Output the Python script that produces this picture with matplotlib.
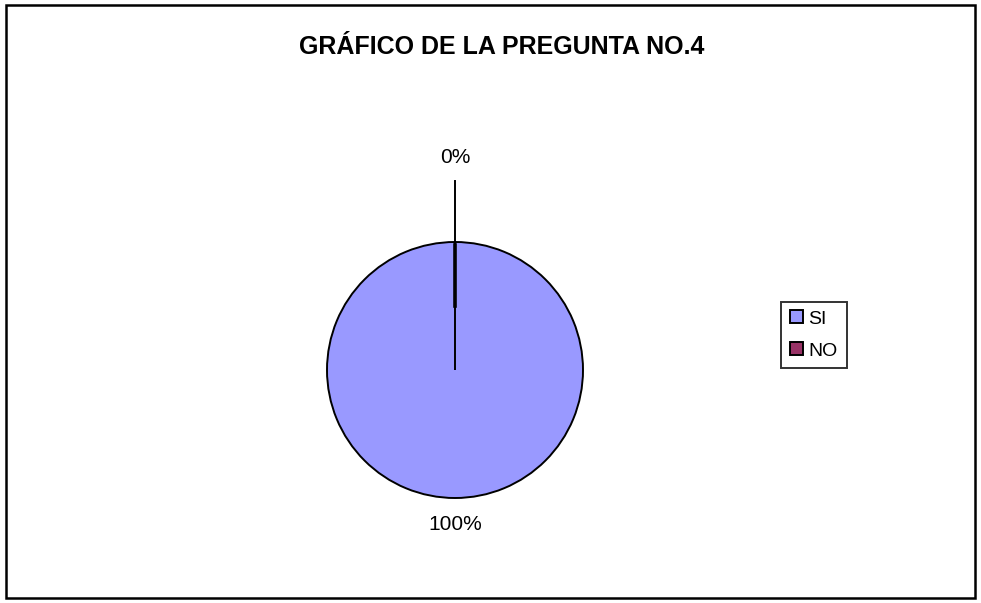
import matplotlib
matplotlib.use('Agg')
import matplotlib.pyplot as plt
from matplotlib.patches import Rectangle
import numpy as np

plt.rcParams['font.family'] = ['Liberation Sans', 'DejaVu Sans']

# data
labels = ['SI', 'NO']
values = [100, 0]
colors = ['#9999FF', '#993366']
title = 'GRÁFICO DE LA PREGUNTA NO.4'

W, H = 981, 603
fig = plt.figure(figsize=(W / 100, H / 100), dpi=100)

# outer border
fig.patches.append(Rectangle((6 / W, 5 / H), 969 / W, 593 / H, transform=fig.transFigure,
                             fill=False, edgecolor='black', linewidth=1.8))

fig.text(502 / W, 1 - 47 / H, title, ha='center', va='center',
         fontsize=18, fontweight='bold')

# pie axes, centre (455, 370), radius 128 px
cx, cy, r = 455, 370, 128
ax = fig.add_axes([(cx - 2 * r) / W, 1 - (cy + 2 * r) / H, 4 * r / W, 4 * r / H])

wedges, _ = ax.pie(values, colors=colors, startangle=90, counterclock=False,
                   radius=1, wedgeprops=dict(edgecolor='black', linewidth=1.4))
ax.set_xlim(-2, 2)
ax.set_ylim(-2, 2)
ax.axis('off')

total = sum(values)
for w, v in zip(wedges, values):
    ang = np.deg2rad((w.theta1 + w.theta2) / 2)
    pct = f'{v / total * 100:.0f}%'
    if v == 0:
        # leader line for the empty slice
        ax.plot([np.cos(ang) * 1.0, np.cos(ang) * 1.48], [np.sin(ang) * 1.0, np.sin(ang) * 1.48],
                color='black', linewidth=1.4)
        ax.plot([0, np.cos(ang) * 0.98], [np.sin(ang) * 0.5, np.sin(ang) * 0.98],
                color='black', linewidth=2.6)
        ax.text(np.cos(ang) * 1.66, np.sin(ang) * 1.66, pct, ha='center', va='center', fontsize=15)
    else:
        ax.text(0, -1.21, pct, ha='center', va='center', fontsize=15)

leg = fig.legend(wedges, labels, loc='center', bbox_to_anchor=(814 / W, 1 - 335 / H),
                 fontsize=14, frameon=True, fancybox=False, handlelength=0.65, handleheight=0.65,
                 handletextpad=0.3, labelspacing=0.75, borderpad=0.45, borderaxespad=0)
leg.get_frame().set_edgecolor('black')
leg.get_frame().set_linewidth(1.4)
for h in leg.legend_handles:
    h.set_linewidth(1.4)

fig.savefig('out.png', dpi=100)
